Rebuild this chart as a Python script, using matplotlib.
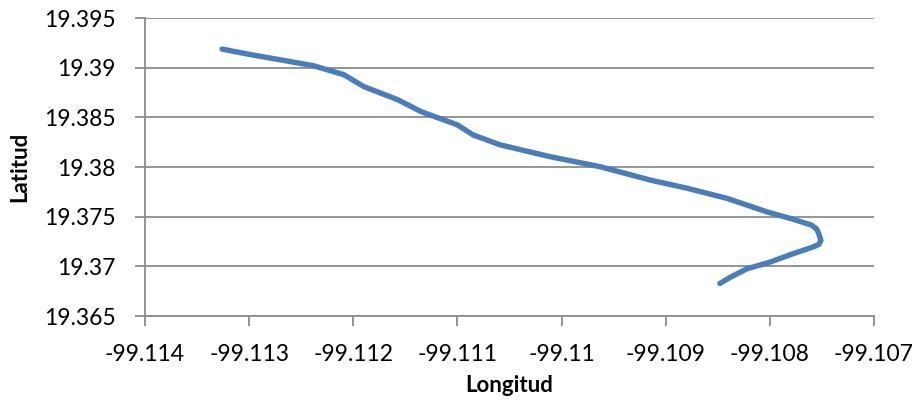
import matplotlib
matplotlib.use("Agg")
import matplotlib.pyplot as plt
from matplotlib.ticker import FixedLocator, FixedFormatter

# recorrido GPS
longitud = [-99.11326, -99.11298, -99.11270, -99.11238, -99.11209, -99.11190,
            -99.11157, -99.11135, -99.11100, -99.11085, -99.11059, -99.11011,
            -99.10963, -99.10915, -99.10879, -99.10841, -99.10803, -99.10778,
            -99.10760, -99.10755, -99.10753, -99.10751, -99.10753, -99.10759,
            -99.10778, -99.10800, -99.10822, -99.10838, -99.10848]
latitud = [19.39187, 19.39130, 19.39079, 19.39019, 19.38929, 19.38810,
           19.38676, 19.38558, 19.38424, 19.38323, 19.38223, 19.38104,
           19.38003, 19.37869, 19.37785, 19.37684, 19.37549, 19.37475,
           19.37415, 19.37375, 19.37328, 19.37260, 19.37220, 19.37193,
           19.37126, 19.37042, 19.36975, 19.36890, 19.36827]

xticks = [-99.114, -99.113, -99.112, -99.111, -99.11, -99.109, -99.108, -99.107]
xlabels = ["-99.114", "-99.113", "-99.112", "-99.111", "-99.11", "-99.109", "-99.108", "-99.107"]
yticks = [19.365, 19.37, 19.375, 19.38, 19.385, 19.39, 19.395]
ylabels = ["19.365", "19.37", "19.375", "19.38", "19.385", "19.39", "19.395"]

plt.rcParams["font.family"] = ["Lato", "DejaVu Sans"]

fig = plt.figure(figsize=(9.19, 4.0), dpi=100)
ax = fig.add_axes([145 / 919, 1 - 316 / 400, (874 - 145) / 919, (316 - 18) / 400])

ax.plot(longitud, latitud, color="#4A7EBB", lw=3.9, solid_capstyle="round",
        solid_joinstyle="round")

ax.set_xlim(-99.114, -99.107)
ax.set_ylim(19.365, 19.395)
ax.xaxis.set_major_locator(FixedLocator(xticks))
ax.xaxis.set_major_formatter(FixedFormatter(xlabels))
ax.yaxis.set_major_locator(FixedLocator(yticks))
ax.yaxis.set_major_formatter(FixedFormatter(ylabels))

gris = "#8C8C8C"
ax.grid(True, axis="y", color=gris, lw=1.3)
ax.set_axisbelow(True)
for s in ["top", "right"]:
    ax.spines[s].set_visible(False)
for s in ["left", "bottom"]:
    ax.spines[s].set_color(gris)
    ax.spines[s].set_linewidth(1.3)
ax.tick_params(axis="both", colors=gris, length=7, width=1.3, labelsize=16.5,
               labelcolor="black")
ax.tick_params(axis="y", pad=14)
ax.tick_params(axis="x", pad=13)

ax.set_xlabel("Longitud", fontsize=16, fontweight="bold", labelpad=7)
ax.set_ylabel("Latitud", fontsize=16, fontweight="bold", labelpad=10)

fig.savefig("out.png", dpi=100)
